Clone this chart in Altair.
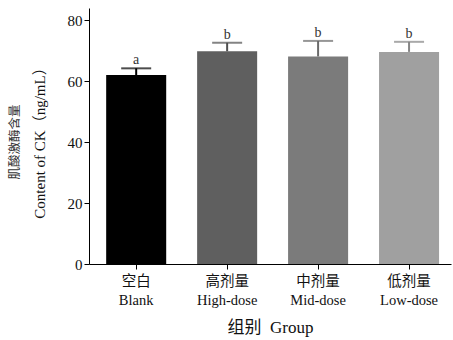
import altair as alt
import pandas as pd

cn_labels = ["空白", "高剂量", "中剂量", "低剂量"]
en_labels = ["Blank", "High-dose", "Mid-dose", "Low-dose"]
means = [62.0, 69.8, 68.1, 69.6]
uppers = [64.2, 72.6, 73.2, 72.9]
letters = ["a", "b", "b", "b"]
bar_colors = ["#000000", "#5f5f5f", "#7b7b7b", "#a0a0a0"]
err_colors = ["#000000", "#4f4f4f", "#6a6a6a", "#858585"]
y_title_cn = "肌酸激酶含量"
y_title_en = "Content of CK（ng/mL）"

groups = [c + "\n" + e for c, e in zip(cn_labels, en_labels)]
df = pd.DataFrame({
    "group": groups,
    "mean": means,
    "upper": uppers,
    "letter": letters,
    "ecolor": err_colors,
})

FONT = "Liberation Serif, Noto Sans CJK SC"

x = alt.X(
    "group:N",
    sort=groups,
    scale=alt.Scale(paddingInner=0.34, paddingOuter=0.16, align=0.59),
    axis=alt.Axis(
        title="组别\u00a0\u00a0Group",
        labelExpr="split(datum.label, '\\n')",
        labelAngle=0,
        labelFont=FONT,
        labelFontSize=14.5,
        labelColor="#111",
        labelLineHeight=19,
        labelPadding=5,
        tickSize=5,
        tickColor="#000",
        domainColor="#000",
        titleFont=FONT,
        titleFontSize=17,
        titleFontWeight="normal",
        titleColor="#111",
        titlePadding=13,
    ),
)

y_scale = alt.Scale(domain=[0, 84], nice=False)

bars = alt.Chart(df).mark_bar().encode(
    x=x,
    y=alt.Y(
        "mean:Q",
        scale=y_scale,
        axis=alt.Axis(
            values=[0, 20, 40, 60, 80],
            title=y_title_en,
            titleFont=FONT,
            titleFontSize=15,
            titleFontWeight="normal",
            titleColor="#111",
            titleAngle=-90,
            titleX=-57,
            titleY=131,
            titleBaseline="top",
            labelFont=FONT,
            labelFontSize=15,
            labelColor="#111",
            labelPadding=2,
            tickSize=5,
            tickColor="#000",
            domainColor="#000",
            grid=False,
        ),
    ),
    color=alt.Color("group:N", sort=groups,
                    scale=alt.Scale(domain=groups, range=bar_colors), legend=None),
)

stems = alt.Chart(df).mark_rule(strokeWidth=2).encode(
    x=alt.X("group:N", sort=groups),
    y=alt.Y("mean:Q", scale=y_scale),
    y2="upper:Q",
    color=alt.Color("ecolor:N", scale=None),
)

caps = alt.Chart(df).mark_tick(size=30, thickness=2).encode(
    x=alt.X("group:N", sort=groups),
    y=alt.Y("upper:Q", scale=y_scale),
    color=alt.Color("ecolor:N", scale=None),
)

labels = alt.Chart(df).mark_text(font=FONT, fontSize=14, dy=-8, color="#333").encode(
    x=alt.X("group:N", sort=groups),
    y=alt.Y("upper:Q", scale=y_scale),
    text="letter:N",
)

cn_title = alt.Chart(pd.DataFrame({"t": [y_title_cn]})).mark_text(
    font="Noto Sans CJK SC", fontSize=12.5, angle=270, color="#333",
    align="center", baseline="middle",
).encode(
    x=alt.value(-74),
    y=alt.value(134),
    text="t:N",
)

chart = (bars + stems + caps + labels + cn_title).properties(
    width=362,
    height=256,
    autosize=alt.AutoSizeParams(type="none"),
    padding={"left": 89, "top": 8, "right": 2, "bottom": 76},
    background="white",
).configure_view(stroke=None)

chart.save("out.html", embed_options={"renderer": "svg", "actions": False})
